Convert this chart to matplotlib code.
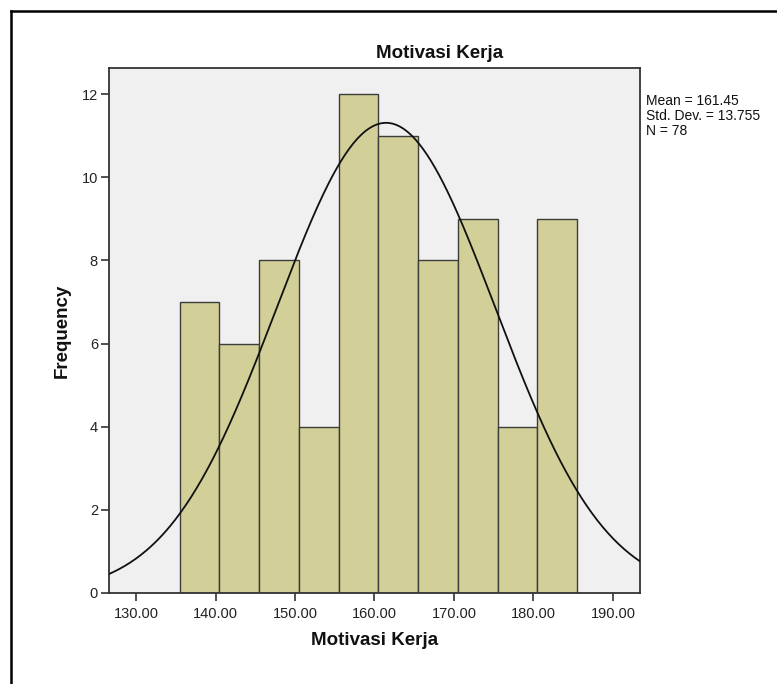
import numpy as np
import matplotlib
matplotlib.use("Agg")
import matplotlib.pyplot as plt
from matplotlib.lines import Line2D

plt.rcParams["font.family"] = ["Liberation Sans", "DejaVu Sans"]

# --------------------------------------------------------------------------
# Histogram data read from the SPSS output
# --------------------------------------------------------------------------
BIN_EDGES = [135.5, 140.5, 145.5, 150.5, 155.5, 160.5, 165.5, 170.5, 175.5, 180.5, 185.5]
COUNTS = [7, 6, 8, 4, 12, 11, 8, 9, 4, 9]
X_TICKS = [130, 140, 150, 160, 170, 180, 190]
Y_TICKS = [0, 2, 4, 6, 8, 10, 12]

MEAN = 161.45
STD = 13.755
N = 78

W, H = 777, 684
fig = plt.figure(figsize=(W / 100, H / 100), dpi=100)
fig.patch.set_facecolor("white")

# axes box in pixels: left 109, right 640, top 68, bottom 593
ax = fig.add_axes([109 / W, 1 - 593 / H, (640 - 109) / W, (593 - 68) / H])
ax.set_facecolor("#F0F0F0")

edges = np.array(BIN_EDGES)
widths = np.diff(edges)
ax.bar(edges[:-1], COUNTS, width=widths, align="edge",
       color="#D3CF98", edgecolor="#3C3C3C", linewidth=1.0, zorder=2)

# fitted normal curve (scaled to counts)
bw = widths[0]
xs = np.linspace(126.6, 193.4, 400)
ys = N * bw / (STD * np.sqrt(2 * np.pi)) * np.exp(-0.5 * ((xs - MEAN) / STD) ** 2)
ax.plot(xs, ys, color="#111111", linewidth=1.3, zorder=3)

ax.set_xlim(126.6, 193.4)
ax.set_ylim(0, 12.63)
ax.set_xticks(X_TICKS)
ax.set_xticklabels([f"{t:.2f}" for t in X_TICKS])
ax.set_yticks(Y_TICKS)
ax.tick_params(axis="both", labelsize=10.5, length=6, width=1.2,
               color="#333333", labelcolor="#222222")
ax.tick_params(axis="x", pad=4)
ax.tick_params(axis="y", pad=2)
for sp in ax.spines.values():
    sp.set_color("#333333")
    sp.set_linewidth(1.3)

ax.set_xlabel("Motivasi Kerja", fontsize=13.5, fontweight="bold", labelpad=8,
              color="#111111")
ax.set_ylabel("Frequency", fontsize=13.5, fontweight="bold", labelpad=8,
              color="#111111")

fig.text(440 / W, 1 - 58 / H, "Motivasi Kerja", ha="center", va="baseline",
         fontsize=13.5, fontweight="bold", color="#111111")

fig.text(646 / W, 1 - 94 / H,
         f"Mean = {MEAN:.2f}\nStd. Dev. = {STD:.3f}\nN = {N}",
         ha="left", va="top", fontsize=10, linespacing=1.1, color="#111111")

# outer frame (left and top edges only visible)
fig.add_artist(Line2D([11 / W, 11 / W], [0, 1 - 11 / H], transform=fig.transFigure,
                      color="black", linewidth=1.8))
fig.add_artist(Line2D([11 / W, 1], [1 - 11 / H, 1 - 11 / H], transform=fig.transFigure,
                      color="black", linewidth=1.8))

fig.savefig("out.png", dpi=100)
